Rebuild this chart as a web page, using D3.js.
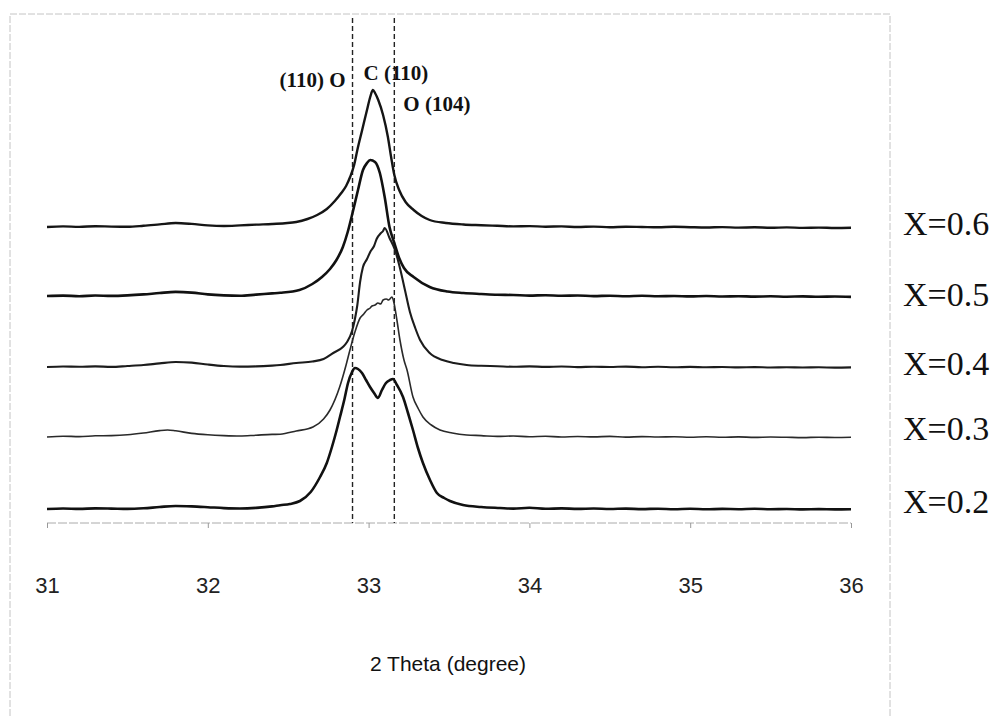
<!DOCTYPE html>
<html>
<head>
<meta charset="utf-8">
<script src="https://cdn.jsdelivr.net/npm/d3@7"></script>
<style>
    body { margin: 0; background: #fff; }
</style>
</head>
<body>
<div class="viz"></div>
<script>
// XRD patterns, 2 theta 31-36, stacked by composition

const compositions = ["X=0.6", "X=0.5", "X=0.4", "X=0.3", "X=0.2"];
const stackOffsets = [282, 213, 142, 72, 0];
const xTicks = [31, 32, 33, 34, 35, 36];
const refLines = [32.9, 33.16];
const peakNames = ["(110) O", "C (110)", "O (104)"];
const xTitle = "2 Theta (degree)";

// [2theta, intensity a.u.]
const s06 = [
    [31.0, 0], [31.1, 0.6], [31.2, 0.1], [31.3, 0.8], [31.4, 0.4], [31.5, 0.2], [31.6, 1.2],
    [31.7, 2.6], [31.8, 4.0], [31.9, 3.1], [32.0, 1.6], [32.1, 1.0], [32.2, 1.6], [32.3, 2.4],
    [32.4, 3.0], [32.48, 3.8], [32.55, 5], [32.62, 8], [32.68, 12], [32.74, 18], [32.79, 26],
    [32.83, 34], [32.86, 41], [32.885, 50], [32.91, 62], [32.93, 77], [32.96, 97], [32.99, 117],
    [33.01, 130], [33.027, 137], [33.04, 134], [33.06, 127], [33.09, 112], [33.12, 90],
    [33.14, 70], [33.16, 52], [33.19, 37], [33.23, 25], [33.28, 17], [33.33, 11], [33.38, 7],
    [33.48, 4], [33.59, 2.5], [33.7, 1.8], [33.8, 1.2], [33.9, 0.6], [34.0, 0.9], [34.1, 0.3],
    [34.2, 0.6], [34.3, 0.0], [34.4, 0.4], [34.5, -0.2], [34.6, 0.3], [34.7, 0.0], [34.8, -0.3],
    [34.9, 0.2], [35.0, -0.2], [35.1, -0.5], [35.2, -0.1], [35.3, -0.6], [35.4, -0.3],
    [35.5, -0.8], [35.6, -0.4], [35.7, -0.9], [35.8, -0.6], [35.9, -1.0], [36.0, -0.8],
];
const s05 = [
    [31.0, 0], [31.1, 0.4], [31.2, -0.2], [31.3, 0.5], [31.4, 0.1], [31.5, 0.6], [31.6, 1.6],
    [31.7, 3.0], [31.8, 4.1], [31.9, 3.4], [32.0, 1.6], [32.1, 0.6], [32.2, 0.2], [32.3, 1.4],
    [32.4, 2.6], [32.45, 3.2], [32.57, 6], [32.65, 12], [32.71, 19], [32.76, 27], [32.8, 36],
    [32.84, 49], [32.87, 64], [32.9, 83], [32.934, 106], [32.965, 126], [32.99, 133],
    [33.01, 136], [33.04, 134], [33.07, 123], [33.1, 99], [33.13, 69], [33.16, 53], [33.19, 38],
    [33.22, 28], [33.28, 19], [33.38, 9], [33.49, 4.5], [33.59, 3], [33.7, 2], [33.8, 1.2],
    [33.9, 1.0], [34.0, 0.4], [34.1, 0.8], [34.2, 0.2], [34.3, 0.5], [34.4, -0.1], [34.5, 0.3],
    [34.6, -0.2], [34.7, 0.2], [34.8, -0.3], [34.9, 0.0], [35.0, -0.4], [35.1, 0.0], [35.2, -0.5],
    [35.3, -0.2], [35.4, -0.6], [35.5, -0.3], [35.6, -0.7], [35.7, -0.4], [35.8, -0.8],
    [35.9, -0.5], [36.0, -0.9],
];
const s04 = [
    [31.0, 0], [31.1, 0.5], [31.2, 0.2], [31.3, 0.6], [31.4, 0.1], [31.5, 1.0], [31.6, 2.0],
    [31.7, 3.6], [31.8, 5.0], [31.9, 4.4], [32.0, 2.5], [32.1, 1.0], [32.2, 0.4], [32.3, 0.6],
    [32.4, 1.4], [32.45, 2], [32.55, 4], [32.65, 5.5], [32.72, 8], [32.78, 14], [32.84, 20],
    [32.866, 25], [32.897, 36], [32.915, 48], [32.93, 62], [32.947, 85], [32.965, 100],
    [32.99, 108], [33.01, 115], [33.034, 121], [33.05, 128], [33.077, 134], [33.09, 136],
    [33.1, 139], [33.13, 129], [33.164, 117], [33.195, 99], [33.226, 77], [33.257, 55],
    [33.29, 39], [33.32, 27], [33.38, 14], [33.46, 7], [33.53, 4], [33.61, 2], [33.7, 1.2],
    [33.8, 0.8], [33.9, 0.2], [34.0, 0.6], [34.1, 0.1], [34.2, 0.5], [34.3, -0.1], [34.4, 0.3],
    [34.5, 0.0], [34.6, 0.4], [34.7, -0.2], [34.8, 0.2], [34.9, -0.3], [35.0, 0.1], [35.1, -0.3],
    [35.2, 0.0], [35.3, -0.4], [35.4, -0.1], [35.5, -0.5], [35.6, -0.2], [35.7, -0.5],
    [35.8, -0.3], [35.9, -0.6], [36.0, -0.4],
];
const s03 = [
    [31.0, 0], [31.1, 0.8], [31.2, 0.4], [31.3, 1.2], [31.4, 1.4], [31.5, 2.2], [31.6, 4.0],
    [31.7, 6.4], [31.75, 7.0], [31.8, 6.2], [31.9, 3.6], [32.0, 2.2], [32.1, 1.4], [32.2, 1.0],
    [32.3, 1.8], [32.4, 2.6], [32.45, 2.8], [32.55, 6], [32.654, 10], [32.72, 18], [32.76, 27],
    [32.82, 50], [32.86, 72], [32.884, 87], [32.915, 105], [32.947, 119], [32.97, 123],
    [32.99, 127], [33.01, 129], [33.021, 131], [33.04, 132], [33.058, 134], [33.075, 133],
    [33.09, 137], [33.11, 138], [33.125, 137], [33.145, 140], [33.155, 136], [33.176, 117],
    [33.195, 97], [33.22, 77], [33.239, 67], [33.276, 40], [33.31, 28], [33.338, 20],
    [33.39, 12], [33.444, 7], [33.52, 4], [33.61, 2], [33.7, 1.4], [33.8, 0.6], [33.9, 1.0],
    [34.0, 0.3], [34.1, 0.7], [34.2, 0.0], [34.3, 0.5], [34.4, 0.1], [34.5, 0.6], [34.6, -0.1],
    [34.7, 0.4], [34.8, 0.0], [34.9, 0.3], [35.0, -0.2], [35.1, 0.2], [35.2, -0.3], [35.3, 0.1],
    [35.4, -0.4], [35.5, 0.0], [35.6, -0.3], [35.7, -0.6], [35.8, -0.2], [35.9, -0.5], [36.0, -0.3],
];
const s02 = [
    [31.0, 0], [31.1, 0.5], [31.2, 0.1], [31.3, 0.6], [31.4, 0.4], [31.5, 0.1], [31.6, 0.7],
    [31.7, 2.0], [31.8, 3.0], [31.9, 2.6], [32.0, 1.8], [32.1, 0.9], [32.2, 0.5], [32.3, 1.1],
    [32.4, 2.6], [32.45, 3.8], [32.51, 5], [32.573, 8], [32.64, 17], [32.698, 32], [32.74, 46],
    [32.772, 62], [32.8, 78], [32.822, 92], [32.85, 110], [32.872, 126], [32.897, 137],
    [32.915, 141], [32.934, 140], [32.959, 136], [32.984, 129], [33.009, 122], [33.034, 116],
    [33.058, 111], [33.083, 119], [33.108, 126], [33.133, 129], [33.152, 130], [33.176, 124],
    [33.214, 112], [33.245, 96], [33.276, 79], [33.307, 61], [33.338, 46], [33.382, 29],
    [33.425, 16], [33.47, 11], [33.506, 8], [33.587, 4], [33.7, 2], [33.817, 1], [33.9, 0.4],
    [34.0, 1.2], [34.1, 0.2], [34.2, 0.6], [34.3, 0.1], [34.4, 0.5], [34.5, 0.0], [34.6, 0.4],
    [34.7, -0.1], [34.8, 0.3], [34.9, -0.2], [35.0, 0.2], [35.1, -0.3], [35.2, 0.1], [35.3, -0.2],
    [35.4, 0.2], [35.5, -0.3], [35.6, 0.0], [35.7, -0.4], [35.8, -0.1], [35.9, -0.4], [36.0, -0.2],
];
const patterns = [s06, s05, s04, s03, s02];

var width = 996,
    height = 718,
    axisY = 523;

var x = d3.scaleLinear().domain([31, 36]).range([47, 851]);
var y = d3.scaleLinear().domain([0, 495]).range([509, 14]);

var svg = d3
    .select(".viz")
    .append("svg")
    .attr("width", width)
    .attr("height", height)
    .style("font-family", "'Liberation Sans', Arial, sans-serif");

// faint scanned frame
svg.append("rect")
    .attr("x", 10)
    .attr("y", 14)
    .attr("width", 880)
    .attr("height", 740)
    .attr("fill", "none")
    .attr("stroke", "#c4c4c4")
    .attr("stroke-dasharray", "7,2")
    .attr("stroke-width", 1);

// x axis
var xAxis = d3.axisBottom(x).tickValues(xTicks).tickSize(5).tickFormat(d3.format("d"));
var gx = svg.append("g").attr("transform", `translate(0,${axisY})`).call(xAxis);
gx.attr("font-size", null).attr("font-family", null);
gx.select(".domain")
    .attr("stroke", "#aaa")
    .attr("stroke-dasharray", "9,2")
    .attr("d", `M${x(31)},0H${x(36)}`);
gx.selectAll(".tick line").attr("stroke", "#999");
gx.selectAll(".tick text")
    .attr("y", 70)
    .attr("dy", 0)
    .attr("fill", "#222")
    .style("font-size", "22px")
    .style("font-family", "'Liberation Sans', Arial, sans-serif");

svg.append("text")
    .attr("x", 448)
    .attr("y", 671)
    .attr("text-anchor", "middle")
    .attr("fill", "#111")
    .style("font-size", "21px")
    .text(xTitle);

// reference lines
svg.append("g")
    .selectAll("line")
    .data(refLines)
    .enter()
    .append("line")
    .attr("x1", (d) => x(d))
    .attr("x2", (d) => x(d))
    .attr("y1", 18)
    .attr("y2", axisY)
    .attr("stroke", "#222")
    .attr("stroke-width", 1.4)
    .attr("stroke-dasharray", "5,3");

// traces
var line = d3.line().curve(d3.curveMonotoneX);
var widths = [2.4, 2.6, 2.1, 1.6, 2.6];
var colors = ["#151515", "#111", "#1c1c1c", "#2a2a2a", "#111"];

svg.append("g")
    .selectAll("path")
    .data(patterns)
    .enter()
    .append("path")
    .attr("fill", "none")
    .attr("stroke", (d, i) => colors[i])
    .attr("stroke-width", (d, i) => widths[i])
    .attr("stroke-linejoin", "round")
    .attr("d", (d, i) => line(d.map((p) => [x(p[0]), y(p[1] + stackOffsets[i])])));

// composition labels
var labelY = [235, 306, 375, 440, 513];
svg.append("g")
    .selectAll("text")
    .data(compositions)
    .enter()
    .append("text")
    .attr("x", 903)
    .attr("y", (d, i) => labelY[i])
    .attr("fill", "#111")
    .style("font-family", "'Liberation Serif', 'Times New Roman', serif")
    .style("font-size", "34px")
    .text((d) => d);

// peak labels
var peakPos = [
    { x: x(refLines[0]) - 7, y: 87, anchor: "end" },
    { x: x(refLines[0]) + 11, y: 80, anchor: "start" },
    { x: x(refLines[1]) + 9, y: 111, anchor: "start" },
];
svg.append("g")
    .selectAll("text")
    .data(peakNames)
    .enter()
    .append("text")
    .attr("x", (d, i) => peakPos[i].x)
    .attr("y", (d, i) => peakPos[i].y)
    .attr("text-anchor", (d, i) => peakPos[i].anchor)
    .attr("fill", "#111")
    .style("font-family", "'Liberation Serif', 'Times New Roman', serif")
    .style("font-weight", "bold")
    .style("font-size", "21px")
    .text((d) => d);
</script>
</body>
</html>
